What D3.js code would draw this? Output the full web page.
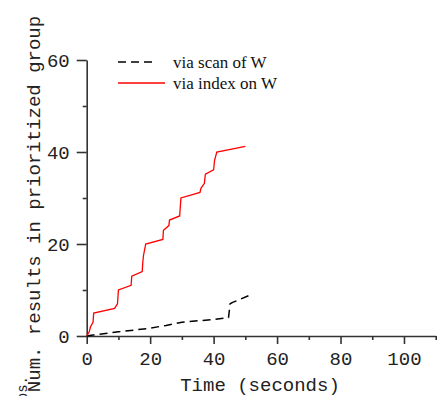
<!DOCTYPE html>
<html>
<head>
<meta charset="utf-8">
<script src="https://cdn.jsdelivr.net/npm/d3@7"></script>
<style>
  html, body { margin: 0; padding: 0; background: #fff; overflow: hidden; }
  svg { display: block; }
  .mono { font-family: "Courier New", "Liberation Mono", monospace; fill: #222; }
  .serif { font-family: "Times New Roman", "Liberation Serif", serif; fill: #111; }
</style>
</head>
<body>
<script>
// --- data --------------------------------------------------------------------
// time (s) vs. number of results, for the two access paths
const indexTime = [0, 0.8, 1.2, 2.0, 2.2, 8.8, 9.7, 10.0, 14.0, 14.2, 17.5, 17.7, 17.9, 18.6,
  24.0, 24.2, 25.9, 26.1, 29.3, 29.7, 35.7, 36.0, 37.1, 37.4, 40.0, 40.3, 41.0, 50.0];
const indexCount = [0, 0.9, 2.0, 3.0, 5.0, 6.0, 7.0, 10.0, 11.0, 13.0, 14.0, 16.2, 17.5, 20.0,
  21.0, 23.0, 24.0, 25.2, 26.1, 30.0, 31.2, 32.1, 33.2, 35.2, 36.1, 38.2, 40.0, 41.2];
const scanTime = [0, 2, 10, 20, 25, 30, 40, 44.7, 45.2, 46, 51.5];
const scanCount = [0, 0.2, 0.9, 1.7, 2.3, 3.0, 3.6, 4.0, 7.0, 7.3, 8.9];

const xMajor = [0, 20, 40, 60, 80, 100];
const xMinor = [10, 30, 50, 70, 90, 110];
const yMajor = [0, 20, 40, 60];
const yMinor = [10, 30, 50];

const seriesNames = ["via scan of W", "via index on W"];

// --- layout ------------------------------------------------------------------
const W = 448, H = 396;
const x = d3.scaleLinear().domain([0, 110]).range([86.7, 435.7]);
const y = d3.scaleLinear().domain([0, 60]).range([336, 60]);

const svg = d3.select("body").append("svg").attr("width", W).attr("height", H);

// axes: major ticks labelled, minor ticks shorter and unlabelled
const gx = svg.append("g").attr("transform", `translate(0,${y(0)})`);
gx.call(d3.axisBottom(x).tickValues(xMajor).tickSize(8).tickSizeOuter(0).tickPadding(8));
const gxm = svg.append("g").attr("transform", `translate(0,${y(0)})`);
gxm.call(d3.axisBottom(x).tickValues(xMinor).tickSize(4).tickSizeOuter(0).tickFormat(""));

const gy = svg.append("g").attr("transform", `translate(${x(0)},0)`);
gy.call(d3.axisLeft(y).tickValues(yMajor).tickSize(10).tickSizeOuter(0).tickPadding(7));
const gym = svg.append("g").attr("transform", `translate(${x(0)},0)`);
gym.call(d3.axisLeft(y).tickValues(yMinor).tickSize(4).tickSizeOuter(0).tickFormat(""));

svg.selectAll(".domain, .tick line").attr("stroke", "#333").attr("stroke-width", 1.6);
gxm.select(".domain").remove();
gym.select(".domain").remove();
svg.selectAll(".tick text")
  .attr("class", "mono")
  .style("font-size", "19px")
  .attr("fill", "#222");

// axis titles
svg.append("text").attr("class", "mono")
  .attr("x", 260).attr("y", 390.5)
  .attr("text-anchor", "middle").style("font-size", "19px")
  .text("Time (seconds)");
svg.append("text").attr("class", "mono")
  .attr("transform", "translate(39.5,204) rotate(-90)")
  .attr("text-anchor", "middle").style("font-size", "19px")
  .text("Num. results in prioritized group");
// leftover of a neighbouring label, clipped at the page edge
svg.append("text").attr("class", "mono")
  .attr("transform", "translate(27,376) rotate(-90)")
  .attr("text-anchor", "end").style("font-size", "14px")
  .text("groups.");

// series
const line = d3.line().x((d) => x(d[0])).y((d) => y(d[1]));
const scanPts = scanTime.map((t, i) => [t, scanCount[i]]);
const indexPts = indexTime.map((t, i) => [t, indexCount[i]]);

svg.append("path").datum(scanPts).attr("d", line)
  .attr("fill", "none").attr("stroke", "#000").attr("stroke-width", 1.5)
  .attr("stroke-dasharray", "8,5");
svg.append("path").datum(indexPts).attr("d", line)
  .attr("fill", "none").attr("stroke", "#ff0000").attr("stroke-width", 1.3);

// legend
const legend = svg.append("g");
const legRows = [
  { name: seriesNames[0], y: 62, x2: 157, stroke: "#000", dash: "8,5", w: 1.5 },
  { name: seriesNames[1], y: 83, x2: 165, stroke: "#ff0000", dash: null, w: 1.3 },
];
legRows.forEach((r) => {
  legend.append("line").attr("x1", 118).attr("x2", r.x2).attr("y1", r.y).attr("y2", r.y)
    .attr("stroke", r.stroke).attr("stroke-width", r.w).attr("stroke-dasharray", r.dash);
  legend.append("text").attr("class", "serif")
    .attr("x", 173).attr("y", r.y + 6).style("font-size", "17px")
    .text(r.name);
});
</script>
</body>
</html>
